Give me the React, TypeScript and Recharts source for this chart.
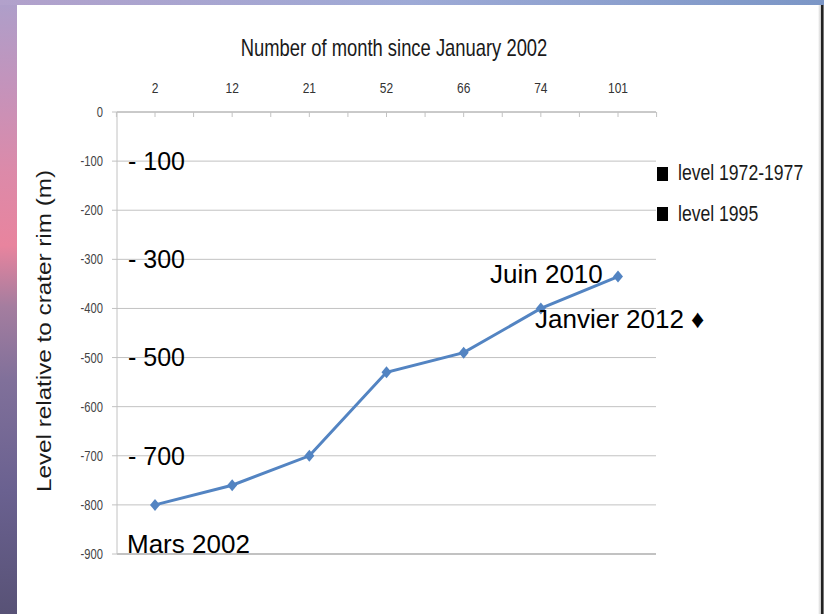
import React from "react";
import { LineChart, Line, XAxis, YAxis, CartesianGrid, ReferenceLine } from "recharts";

// months since January 2002 (top axis) and lava lake level (m)
const months = ["2", "12", "21", "52", "66", "74", "101"];
const levels = [-800, -760, -700, -530, -490, -400, -335];
const yTicks = [0, -100, -200, -300, -400, -500, -600, -700, -800, -900];
const markedLevels = [-100, -300, -500, -700];
const legendItems = ["level 1972-1977", "level 1995"];

const data = months.map((month, i) => ({ month, level: levels[i] }));

const W = 824;
const H = 614;
const PLOT_LEFT = 117;
const PLOT_RIGHT = 656;
const PLOT_TOP = 112;
const PLOT_BOTTOM = 554;
const Y_AXIS_W = 40;
const X_AXIS_H = 30;
const PAD = 38;
const HALF_STEP = (PLOT_RIGHT - PLOT_LEFT - 2 * PAD) / (months.length - 1) / 2;

// the original picture is stretched vertically, so its Arial looks condensed
const SANS = "'Liberation Sans', Arial, sans-serif";
const SQUEEZE = 0.8;
const GRID = "#c2c2c2";
const LINE = "#5384c2";

function NarrowText({ x, y, anchor = "start", size, fill = "#1a1a1a", children }: any) {
  return (
    <text
      transform={`translate(${x},${y}) scale(${SQUEEZE},1)`}
      textAnchor={anchor}
      fontSize={size}
      fontFamily={SANS}
      fill={fill}
    >
      {children}
    </text>
  );
}

function MonthTick({ x, y, payload, index }: any) {
  const marks = [x, x + HALF_STEP];
  if (index === 0) marks.push(x - HALF_STEP);
  return (
    <g>
      {marks.map((tx) => (
        <line key={tx} x1={tx} x2={tx} y1={y} y2={y + 5} stroke={GRID} />
      ))}
      <NarrowText x={x} y={y - 19} anchor="middle" size={15} fill="#333">
        {payload.value}
      </NarrowText>
    </g>
  );
}

function LevelTick({ x, y, payload }: any) {
  return (
    <NarrowText x={x} y={y + 5} anchor="end" size={14} fill="#444">
      {payload.value}
    </NarrowText>
  );
}

function Diamond({ cx, cy }: any) {
  if (cx == null || cy == null) return null;
  return <polygon points={`${cx},${cy - 6} ${cx + 5},${cy} ${cx},${cy + 6} ${cx - 5},${cy}`} fill={LINE} />;
}

export default function App() {
  return (
    <div style={{ position: "absolute", left: 0, top: 0, width: W, height: H, overflow: "hidden", background: "#fff" }}>
      {/* slide frame */}
      <div style={{ position: "absolute", left: 0, top: 0, width: 17, height: H,
        background: "linear-gradient(to bottom, #ad9fca 0%, #c493bb 14%, #dc8aa9 28%, #e8849e 40%, #a47d9f 50%, #80709a 62%, #6a6190 80%, #585276 100%)" }} />
      <div style={{ position: "absolute", left: 0, top: 0, width: W, height: 5,
        background: "linear-gradient(to right, #b2a1cb, #9eaad6 50%, #7b96c6)" }} />
      <div style={{ position: "absolute", left: 818, top: 5, width: 3, height: H, background: "linear-gradient(to right, #fff, #c8c8c8)" }} />
      <div style={{ position: "absolute", left: 821, top: 5, width: 2, height: H, background: "#222" }} />
      <div style={{ position: "absolute", left: 823, top: 5, width: 1, height: H, background: "#777" }} />

      <div style={{ position: "absolute", left: 0, top: 0 }}>
        <LineChart
          width={W}
          height={H}
          data={data}
          margin={{ top: PLOT_TOP - X_AXIS_H, right: W - PLOT_RIGHT, bottom: H - PLOT_BOTTOM, left: PLOT_LEFT - Y_AXIS_W }}
        >
          <CartesianGrid vertical={false} stroke={GRID} />
          <XAxis
            dataKey="month"
            orientation="top"
            height={X_AXIS_H}
            padding={{ left: PAD, right: PAD }}
            axisLine={{ stroke: GRID, strokeWidth: 1.5 }}
            tickLine={false}
            tickSize={0}
            tickMargin={0}
            interval={0}
            tick={<MonthTick />}
          />
          <YAxis
            width={Y_AXIS_W}
            domain={[-900, 0]}
            ticks={yTicks}
            interval={0}
            axisLine={{ stroke: GRID }}
            tickLine={{ stroke: GRID }}
            tickSize={5}
            tickMargin={9}
            tick={<LevelTick />}
          />
          <ReferenceLine y={-900} stroke={GRID} strokeWidth={2} />
          {markedLevels.map((v) => (
            <ReferenceLine
              key={v}
              y={v}
              stroke="none"
              label={{ value: `- ${-v}`, position: "insideLeft", offset: 11, fontSize: 25, fontFamily: SANS, fill: "#000" }}
            />
          ))}
          <Line
            dataKey="level"
            stroke={LINE}
            strokeWidth={3}
            dot={(p: any) => <Diamond key={p.index} {...p} />}
            activeDot={false}
            isAnimationActive={false}
          />
        </LineChart>
      </div>

      {/* titles, annotations and legend */}
      <svg width={W} height={H} style={{ position: "absolute", left: 0, top: 0, pointerEvents: "none" }}>
        <NarrowText x={394} y={56} anchor="middle" size={23}>
          Number of month since January 2002
        </NarrowText>
        <text
          transform="translate(51,331) rotate(-90)"
          textAnchor="middle"
          fontSize={20}
          fontFamily={SANS}
          fill="#1a1a1a"
          textLength={322}
          lengthAdjust="spacingAndGlyphs"
        >
          Level relative to crater rim (m)
        </text>
        <text x={127} y={553} fontSize={26} fontFamily={SANS} fill="#000">Mars 2002</text>
        <text x={490} y={283} fontSize={26} fontFamily={SANS} fill="#000">Juin 2010</text>
        <text x={535} y={328} fontSize={26} fontFamily={SANS} fill="#000">Janvier 2012 ♦</text>
        {legendItems.map((item, i) => (
          <g key={item}>
            <rect x={657} y={167 + i * 40} width={11} height={14} fill="#000" />
            <NarrowText x={678} y={180 + i * 41} size={22}>{item}</NarrowText>
          </g>
        ))}
      </svg>
    </div>
  );
}
